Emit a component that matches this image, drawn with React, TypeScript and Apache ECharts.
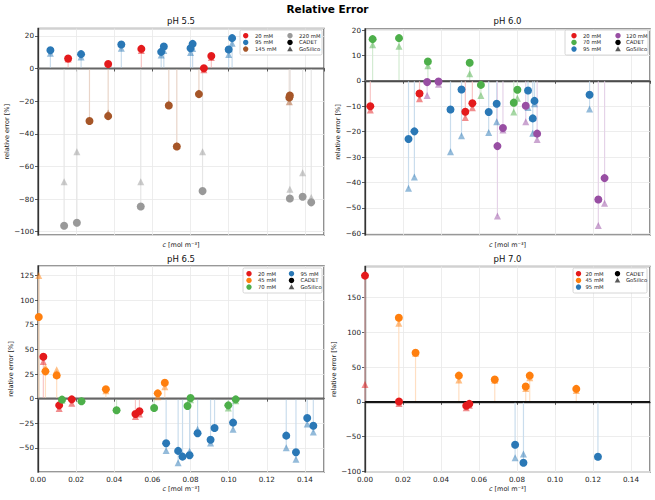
import React, { useEffect, useRef } from "react";
import * as echarts from "echarts";

// ---------------- data ----------------
// pH 5.5
const ph55_20_c = [0.0158, 0.0368, 0.0542, 0.087, 0.0909];
const ph55_20_cadet = [6.1, 2.7, 12.0, 0.2, 7.6];
const ph55_20_gos = [5.8, 3.0, 11.0, -0.8, 6.8];
const ph55_95_c = [0.0065, 0.0226, 0.0437, 0.0646, 0.066, 0.08, 0.0811, 0.1, 0.1018];
const ph55_95_cadet = [11.2, 8.8, 14.7, 10.2, 13.5, 12.4, 15.1, 11.6, 18.6];
const ph55_95_gos = [9.3, 7.0, 12.4, 8.2, 11.0, 9.8, 12.2, 8.5, 15.4];
const ph55_145_c = [0.027, 0.0368, 0.0686, 0.0728, 0.0844, 0.1318, 0.1321];
const ph55_145_cadet = [-32.2, -29.2, -22.7, -47.8, -15.7, -17.8, -16.5];
const ph55_145_gos = [-31.5, -27.2, -21.5, -47.0, -15.0, -20.3, -16.0];
const ph55_220_c = [0.0137, 0.0204, 0.0539, 0.0863, 0.1321, 0.1388, 0.1433];
const ph55_220_cadet = [-96.3, -94.5, -84.5, -75.1, -79.6, -78.6, -82.0];
const ph55_220_gos = [-69.4, -51.0, -69.4, -51.0, -73.9, -63.9, -79.0];

// pH 6.0
const ph60_20_c = [0.0028, 0.0287, 0.0528, 0.0565];
const ph60_20_cadet = [-10.0, -5.0, -12.2, -8.8];
const ph60_20_gos = [-11.5, -7.1, -14.4, -10.6];
const ph60_70_c = [0.004, 0.0179, 0.0331, 0.0551, 0.061, 0.0783, 0.0802];
const ph60_70_cadet = [16.4, 16.8, 7.6, 7.1, -1.6, -8.6, -3.5];
const ph60_70_gos = [14.2, 13.6, 5.9, 2.8, -5.8, -12.3, -6.9];
const ph60_95_c = [0.0229, 0.026, 0.045, 0.0508, 0.0651, 0.0693, 0.0858, 0.0883, 0.0892, 0.1182];
const ph60_95_cadet = [-22.9, -19.9, -11.3, -3.4, -12.3, -9.0, -3.8, -14.8, -7.9, -5.5];
const ph60_95_gos = [-42.3, -37.9, -27.9, -21.6, -20.3, -16.1, -10.5, -20.6, -9.0, -11.1];
const ph60_120_c = [0.0327, 0.0387, 0.0697, 0.0726, 0.0846, 0.0906, 0.1228, 0.1261];
const ph60_120_cadet = [-0.5, -0.3, -25.7, -18.6, -9.8, -20.8, -46.7, -38.3];
const ph60_120_gos = [-5.8, -1.4, -53.2, -19.4, -16.1, -23.1, -57.0, -48.2];

// pH 6.5
const ph65_20_c = [0.0028, 0.0111, 0.0177, 0.0511, 0.0532];
const ph65_20_cadet = [42.6, -6.8, -0.7, -15.5, -12.8];
const ph65_20_gos = [37.8, -10.1, -4.7, -18.2, -15.5];
const ph65_45_c = [0.0004, 0.0039, 0.0098, 0.0356, 0.0628, 0.0665];
const ph65_45_cadet = [82.8, 27.7, 23.6, 9.5, 5.4, 16.2];
const ph65_45_gos = [125.0, 31.8, 29.4, 8.0, 2.0, 12.2];
const ph65_70_c = [0.0126, 0.0228, 0.0412, 0.0609, 0.0784, 0.08, 0.0998, 0.1037];
const ph65_70_cadet = [-1.0, -2.7, -11.8, -9.5, -7.4, 0.7, -6.8, -0.7];
const ph65_70_gos = [-1.5, -1.8, -11.0, -8.5, -5.5, -1.2, -9.5, -2.0];
const ph65_95_c = [0.0672, 0.0735, 0.0758, 0.0795, 0.0837, 0.0905, 0.0926, 0.1023, 0.1302, 0.1353, 0.1412, 0.1444];
const ph65_95_cadet = [-45.3, -53.0, -58.8, -57.4, -35.1, -41.6, -29.7, -24.3, -37.5, -54.4, -19.6, -27.4];
const ph65_95_gos = [-52.7, -64.9, -57.5, -53.4, -31.1, -44.9, -29.0, -31.1, -49.7, -61.5, -25.7, -33.8];

// pH 7.0
const ph70_20_c = [0.0, 0.0179, 0.0533, 0.0549];
const ph70_20_cadet = [181.4, 0.5, -5.7, -2.9];
const ph70_20_gos = [24.8, -2.4, -8.6, -5.0];
const ph70_45_c = [0.0178, 0.0266, 0.0494, 0.0683, 0.0846, 0.0867, 0.1112];
const ph70_45_cadet = [120.8, 70.6, 37.7, 32.0, 22.0, 37.7, 18.6];
const ph70_45_gos = [113.1, 70.0, 31.5, 31.0, 19.1, 34.8, 16.2];
const ph70_95_c = [0.079, 0.0834, 0.1226];
const ph70_95_cadet = [-61.6, -87.4, -78.8];
const ph70_95_gos = [-80.2, -74.9, -78.0];

const X_MIN = 0;
const X_MAX = 0.15;
const X_STEP = 0.02;

const COLORS: Record<string, string> = {
  "20 mM": "#e41a1c",
  "45 mM": "#ff7f0e",
  "70 mM": "#4daf4a",
  "95 mM": "#2a78b6",
  "120 mM": "#984ea3",
  "145 mM": "#a65628",
  "220 mM": "#999999",
};

// blend a colour with white (a = share of the colour)
function tint(hex: string, a: number) {
  const n = parseInt(hex.slice(1), 16);
  const mix = (v: number) => Math.round(v * a + 255 * (1 - a));
  return `rgb(${mix((n >> 16) & 255)},${mix((n >> 8) & 255)},${mix(n & 255)})`;
}

type Group = { name: string; c: number[]; cadet: number[]; gos: number[] };

const panels = [
  {
    title: "pH 5.5",
    yMin: -102, yMax: 24.5, yStep: 20,
    grid: { left: 38, top: 28.5, width: 286, height: 206.5 },
    showXLabels: false,
    zeroColor: "#666",
    groups: [
      { name: "20 mM", c: ph55_20_c, cadet: ph55_20_cadet, gos: ph55_20_gos },
      { name: "95 mM", c: ph55_95_c, cadet: ph55_95_cadet, gos: ph55_95_gos },
      { name: "145 mM", c: ph55_145_c, cadet: ph55_145_cadet, gos: ph55_145_gos },
      { name: "220 mM", c: ph55_220_c, cadet: ph55_220_cadet, gos: ph55_220_gos },
    ] as Group[],
    legend: { left: 240, top: 30, w: 82, h: 25, m1: 5.7, t1: 15, m2: 50, t2: 59,
      col1: ["20 mM", "95 mM", "145 mM"], col2: ["220 mM", "CADET", "GoSilico"] },
  },
  {
    title: "pH 6.0",
    yMin: -60.7, yMax: 20.4, yStep: 10,
    grid: { left: 365, top: 29, width: 285, height: 206 },
    showXLabels: false,
    zeroColor: "#666",
    groups: [
      { name: "20 mM", c: ph60_20_c, cadet: ph60_20_cadet, gos: ph60_20_gos },
      { name: "70 mM", c: ph60_70_c, cadet: ph60_70_cadet, gos: ph60_70_gos },
      { name: "95 mM", c: ph60_95_c, cadet: ph60_95_cadet, gos: ph60_95_gos },
      { name: "120 mM", c: ph60_120_c, cadet: ph60_120_cadet, gos: ph60_120_gos },
    ] as Group[],
    legend: { left: 565, top: 30, w: 83, h: 25, m1: 9, t1: 18, m2: 53, t2: 61,
      col1: ["20 mM", "70 mM", "95 mM"], col2: ["120 mM", "CADET", "GoSilico"] },
  },
  {
    title: "pH 6.5",
    yMin: -74.4, yMax: 134.6, yStep: 25,
    grid: { left: 38, top: 266, width: 286, height: 206 },
    showXLabels: true,
    zeroColor: "#666",
    groups: [
      { name: "20 mM", c: ph65_20_c, cadet: ph65_20_cadet, gos: ph65_20_gos },
      { name: "45 mM", c: ph65_45_c, cadet: ph65_45_cadet, gos: ph65_45_gos },
      { name: "70 mM", c: ph65_70_c, cadet: ph65_70_cadet, gos: ph65_70_gos },
      { name: "95 mM", c: ph65_95_c, cadet: ph65_95_cadet, gos: ph65_95_gos },
    ] as Group[],
    legend: { left: 243, top: 268, w: 79, h: 25, m1: 6, t1: 15, m2: 48.5, t2: 57.5,
      col1: ["20 mM", "45 mM", "70 mM"], col2: ["95 mM", "CADET", "GoSilico"] },
  },
  {
    title: "pH 7.0",
    yMin: -100.8, yMax: 194.5, yStep: 50,
    grid: { left: 365, top: 266.5, width: 285, height: 205.5 },
    showXLabels: true,
    zeroColor: "#111",
    groups: [
      { name: "20 mM", c: ph70_20_c, cadet: ph70_20_cadet, gos: ph70_20_gos },
      { name: "45 mM", c: ph70_45_c, cadet: ph70_45_cadet, gos: ph70_45_gos },
      { name: "95 mM", c: ph70_95_c, cadet: ph70_95_cadet, gos: ph70_95_gos },
    ] as Group[],
    legend: { left: 573, top: 268, w: 74, h: 25, m1: 5.5, t1: 12.5, m2: 44.5, t2: 53,
      col1: ["20 mM", "45 mM", "95 mM"], col2: ["CADET", "GoSilico"] },
  },
];

const FONT = "DejaVu Sans";
const minus = (s: string) => s.replace("-", "\u2212");

function buildOption() {
  const grids: any[] = [];
  const xAxes: any[] = [];
  const yAxes: any[] = [];
  const series: any[] = [];
  const graphics: any[] = [];

  graphics.push({
    type: "text", x: 327.5, y: 8.5, z: 20,
    style: { text: "Relative Error", fontFamily: FONT, fontSize: 10.5, fontWeight: "bold", fill: "#000", align: "center", verticalAlign: "middle" },
  });

  panels.forEach((p, i) => {
    const g = p.grid;
    grids.push({ left: g.left, top: g.top, width: g.width, height: g.height, show: true, borderColor: "#777", borderWidth: 1.6, backgroundColor: "transparent", containLabel: false });
    xAxes.push({
      type: "value", gridIndex: i, min: X_MIN, max: X_MAX, interval: X_STEP,
      name: "{i|c} [mol m\u207B\u00B3]", nameLocation: "middle", nameGap: p.showXLabels ? 13.5 : 6,
      nameTextStyle: { fontFamily: FONT, fontSize: 6.5, color: "#222", verticalAlign: "top",
        rich: { i: { fontStyle: "italic", fontFamily: FONT, fontSize: 6.5, color: "#222" } } },
      axisLine: { show: true, lineStyle: { color: "#333", width: 1.3 } },
      axisTick: { show: true, length: 3, lineStyle: { color: "#333", width: 0.8 } },
      axisLabel: { show: p.showXLabels, showMaxLabel: false, fontFamily: FONT, fontSize: 7.2, color: "#222", margin: 4,
        formatter: (v: number) => v.toFixed(2) },
      splitLine: { show: true, lineStyle: { color: "#e8e8e8", width: 0.8 } },
    });
    yAxes.push({
      type: "value", gridIndex: i, min: p.yMin, max: p.yMax, minInterval: p.yStep, maxInterval: p.yStep,
      name: "relative error [%]", nameLocation: "middle", nameGap: 22,
      nameTextStyle: { fontFamily: FONT, fontSize: 6.5, color: "#222" },
      axisLine: { show: true, lineStyle: { color: "#333", width: 1.3 } },
      axisTick: { show: true, length: 3, lineStyle: { color: "#333", width: 0.8 } },
      axisLabel: { showMinLabel: false, showMaxLabel: false, fontFamily: FONT, fontSize: 7.2, color: "#222", margin: 4,
        formatter: (v: number) => minus(String(Math.round(v))) },
      splitLine: { show: true, lineStyle: { color: "#e8e8e8", width: 0.8 } },
    });

    // zero line
    series.push({
      type: "line", xAxisIndex: i, yAxisIndex: i, data: [[X_MIN, 0], [X_MAX, 0]],
      showSymbol: false, symbol: "none", silent: true, z: 3,
      lineStyle: { color: p.zeroColor, width: 1.6 },
    });

    p.groups.forEach((grp) => {
      const color = COLORS[grp.name];
      const stemColor = tint(color, 0.25);
      const stemData: number[][] = [];
      grp.c.forEach((x, k) => {
        const a = grp.cadet[k];
        const b = grp.gos[k];
        // one stem from zero to the farther of the two markers
        stemData.push([x, Math.abs(a) >= Math.abs(b) ? a : b]);
      });
      series.push({
        type: "custom", xAxisIndex: i, yAxisIndex: i, data: stemData, silent: true, z: 2,
        renderItem: (params: any, api: any) => {
          const x = api.value(0);
          const y = api.value(1);
          const p0 = api.coord([x, 0]);
          const p1 = api.coord([x, y]);
          return {
            type: "line",
            shape: { x1: p0[0], y1: p0[1], x2: p1[0], y2: p1[1] },
            style: { stroke: stemColor, lineWidth: 1.2, fill: null },
          };
        },
      });
      series.push({
        type: "scatter", name: grp.name + " GoSilico", xAxisIndex: i, yAxisIndex: i, z: 4,
        symbol: "triangle", symbolSize: 7, silent: true,
        itemStyle: { color, opacity: 0.5 },
        data: grp.c.map((x, k) => [x, grp.gos[k]]),
      });
      series.push({
        type: "scatter", name: grp.name + " CADET", xAxisIndex: i, yAxisIndex: i, z: 5,
        symbol: "circle", symbolSize: 8, silent: true,
        itemStyle: { color, opacity: 1 },
        data: grp.c.map((x, k) => [x, grp.cadet[k]]),
      });
    });

    // subplot title
    const titleY = i < 2 ? 21 : 259;
    graphics.push({
      type: "text", x: g.left + g.width / 2, y: titleY, z: 20,
      style: { text: p.title, fontFamily: FONT, fontSize: 8.5, fill: "#111", align: "center", verticalAlign: "middle" },
    });

    // legend
    const L = p.legend;
    graphics.push({
      type: "rect", z: 20,
      shape: { x: L.left, y: L.top, width: L.w, height: L.h, r: 1.5 },
      style: { fill: "rgba(255,255,255,0.85)", stroke: "#cccccc", lineWidth: 0.8 },
    });
    const rowY = (r: number) => L.top + 5.7 + r * 6.7;
    const addEntry = (label: string, mx: number, tx: number, r: number) => {
      const cy = rowY(r);
      if (label === "GoSilico") {
        graphics.push({
          type: "polygon", z: 21,
          shape: { points: [[mx, cy - 2.8], [mx - 2.8, cy + 2.2], [mx + 2.8, cy + 2.2]] },
          style: { fill: "#000", opacity: 0.65 },
        });
      } else {
        graphics.push({
          type: "circle", z: 21,
          shape: { cx: mx, cy, r: 2.7 },
          style: { fill: label === "CADET" ? "#000" : COLORS[label] },
        });
      }
      graphics.push({
        type: "text", x: tx, y: cy, z: 21,
        style: { text: label, fontFamily: FONT, fontSize: 5.3, fill: "#222", align: "left", verticalAlign: "middle" },
      });
    };
    L.col1.forEach((lab, r) => addEntry(lab, L.left + L.m1, L.left + L.t1, r));
    L.col2.forEach((lab, r) => addEntry(lab, L.left + L.m2, L.left + L.t2, r));
  });

  return {
    animation: false,
    backgroundColor: "#ffffff",
    textStyle: { fontFamily: FONT },
    grid: grids,
    xAxis: xAxes,
    yAxis: yAxes,
    series,
    graphic: graphics,
  };
}

export default function App() {
  const ref = useRef<HTMLDivElement>(null);
  useEffect(() => {
    if (!ref.current) return;
    const chart = echarts.init(ref.current, undefined, { renderer: "svg" });
    chart.setOption(buildOption() as any);
    return () => chart.dispose();
  }, []);
  return (
    <div
      ref={ref}
      style={{ position: "fixed", left: 0, top: 0, width: 655, height: 500, background: "#fff" }}
    />
  );
}
